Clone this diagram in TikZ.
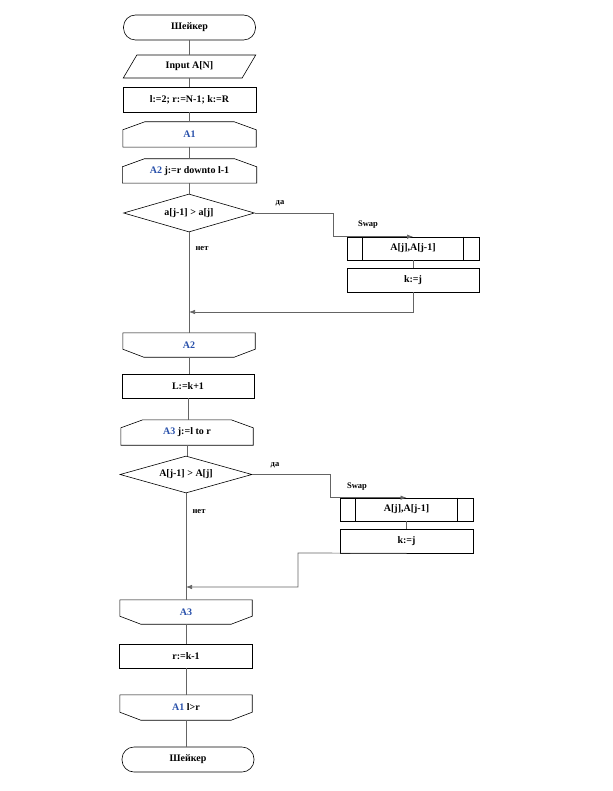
\documentclass[tikz,border=0pt]{standalone}
\usepackage{fontspec}
\setmainfont{Liberation Serif}
\usetikzlibrary{shapes.geometric,arrows.meta}
\definecolor{lblue}{RGB}{40,80,170}
\definecolor{lnc}{RGB}{100,100,100}
\newcommand\looptopshape[1]{\draw[line width=0.6pt] (#1.south west) -- ([yshift=-8pt]#1.north west) -- ([xshift=22pt]#1.north west) -- ([xshift=-22pt]#1.north east) -- ([yshift=-8pt]#1.north east) -- (#1.south east) -- cycle;}
\newcommand\loopbotshape[1]{\draw[line width=0.6pt] (#1.north west) -- ([yshift=8pt]#1.south west) -- ([xshift=21pt]#1.south west) -- ([xshift=-21pt]#1.south east) -- ([yshift=8pt]#1.south east) -- (#1.north east) -- cycle;}
\newcommand\predefshape[1]{\draw[line width=0.6pt] ([xshift=16pt]#1.north west) -- ([xshift=16pt]#1.south west); \draw[line width=0.6pt] ([xshift=-16pt]#1.north east) -- ([xshift=-16pt]#1.south east);}
\begin{document}
\begin{tikzpicture}[x=1pt,y=-1pt, font=\bfseries\fontsize{10}{12}\selectfont,
 box/.style={draw, minimum width=133pt, minimum height=24pt, inner sep=1pt, line width=0.6pt},
 term/.style={box, rounded corners=12pt, minimum width=132pt, minimum height=25pt},
 io/.style={trapezium, trapezium stretches=true, trapezium left angle=60, trapezium right angle=120, draw, minimum width=133pt, minimum height=23pt, inner sep=1pt, line width=0.6pt},
 bare/.style={minimum width=133pt, minimum height=25pt, inner sep=1pt},
 dec/.style={diamond, draw, minimum width=131pt, minimum height=38pt, inner sep=0pt, aspect=3.4, line width=0.6pt},
 conn/.style={draw=lnc, line width=0.7pt},
 arr/.style={conn, -{Latex[length=6pt,width=4.5pt]}},
 lbl/.style={font=\bfseries\fontsize{8.5}{10}\selectfont}
]
\useasboundingbox (0,0) rectangle (612,791);

\node[term] (t1) at (189.5,27.5) {Шейкер};
\node[io] (p) at (189.5,66.5) {Input A[N]};
\node[box, minimum height=25pt] (init) at (189.5,99.5) {l:=2; r:=N-1; k:=R};
\node[bare] (a1s) at (189.5,134.5) {\color{lblue}A1};
\looptopshape{a1s}
\node[bare, minimum width=134pt, minimum height=24pt] (a2s) at (189.5,171) {{\color{lblue}A2} j:=r downto l-1};
\looptopshape{a2s}
\node[dec] (d1) at (189,213) {a[j-1] > a[j]};
\node[box, minimum height=23pt, minimum width=132pt] (s1) at (413,248.5) {A[j],A[j-1]};
\predefshape{s1}
\node[box, minimum width=132pt] (k1) at (413,280) {k:=j};
\node[bare, minimum height=24pt, minimum width=132pt] (a2e) at (189,345) {\color{lblue}A2};
\loopbotshape{a2e}
\node[box, minimum width=132pt] (L) at (188,386) {L:=k+1};
\node[bare, minimum width=132pt] (a3s) at (187,432.5) {{\color{lblue}A3} j:=l to r};
\looptopshape{a3s}
\node[dec, minimum width=132pt, minimum height=37pt] (d2) at (186,474.5) {A[j-1] > A[j]};
\node[box, minimum height=23pt] (s2) at (406.5,509.5) {A[j],A[j-1]};
\predefshape{s2}
\node[box] (k2) at (406.5,541) {k:=j};
\node[bare, minimum height=24pt, minimum width=132pt] (a3e) at (186,612) {\color{lblue}A3};
\loopbotshape{a3e}
\node[box] (r) at (186,656) {r:=k-1};
\node[bare, minimum width=132pt] (a1e) at (186,707.5) {{\color{lblue}A1} l>r};
\loopbotshape{a1e}
\node[term] (t2) at (188,759.5) {Шейкер};

% labels
\node[lbl] (yes1) at (280,203) {да};
\node[lbl] (sw1) at (368,225) {Swap};
\node[lbl] (no1) at (202,249) {нет};
\node[lbl] (yes2) at (275,465) {да};
\node[lbl] (sw2) at (357,487) {Swap};
\node[lbl] (no2) at (199,512) {нет};

% helper coordinates
\coordinate (c1) at (333,213);
\coordinate (r1) at (189,312);
\coordinate (c2) at (330,474.5);
\coordinate (q1) at (298,553);
\coordinate (q2) at (298,587);
\coordinate (r2) at (186,587);

% main flow
\draw[conn] (t1.south) -- (t1.south |- p.north);
\draw[conn] (p.south) -- (p.south |- init.north);
\draw[conn] (init.south) -- (init.south |- a1s.north);
\draw[conn] (a1s.south) -- (a1s.south |- a2s.north);
\draw[conn] (a2s.south) -- (a2s.south |- d1.north);
\draw[conn] (d1.south) -- (d1.south |- a2e.north);
\draw[conn] (a2e.south) -- (a2e.south |- L.north);
\draw[conn] (L.south) -- (L.south |- a3s.north);
\draw[conn] (a3s.south) -- (a3s.south |- d2.north);
\draw[conn] (d2.south) -- (d2.south |- a3e.north);
\draw[conn] (a3e.south) -- (a3e.south |- r.north);
\draw[conn] (r.south) -- (r.south |- a1e.north);
\draw[conn] (a1e.south) -- (a1e.south |- t2.north);

% branch 1
\draw[arr] (d1.east) -- (c1) |- (s1.north);
\draw[conn] (s1.south) -- (k1.north);
\draw[arr] (k1.south) |- (r1);

% branch 2
\draw[arr] (d2.east) -- (c2) |- (s2.north);
\draw[conn] (s2.south) -- (k2.north);
\draw[arr] (k2.south) -- (q1) -- (q2) -- (r2);
\end{tikzpicture}
\end{document}
